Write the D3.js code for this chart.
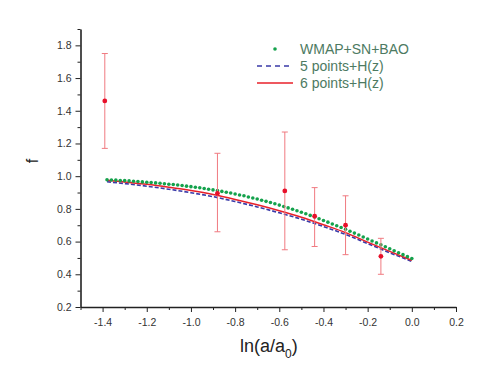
<!DOCTYPE html>
<html>
<head>
<meta charset="utf-8">
<script src="https://d3js.org/d3.v7.min.js"></script>
<style>
  body { margin: 0; background: #fff; }
  svg text { font-family: "Liberation Sans", Arial, sans-serif; }
  .axis path, .axis line { stroke: #222; }
  .axis text { fill: #333; font-size: 10.5px; }
</style>
</head>
<body>
<svg width="494" height="388"></svg>
<script>
// measured growth rate points with error bars
var obsX   = [-1.39, -0.88, -0.575, -0.44, -0.30, -0.14];
var obsF   = [1.46, 0.895, 0.91, 0.755, 0.70, 0.51];
var obsLo  = [1.17, 0.66, 0.55, 0.57, 0.52, 0.40];
var obsHi  = [1.75, 1.14, 1.27, 0.93, 0.88, 0.62];

// WMAP+SN+BAO dots, ln(a/a0) from 0 down to -1.38
var wmapX = [0, -0.02, -0.04, -0.06, -0.08, -0.10, -0.12, -0.14, -0.16, -0.18,
  -0.20, -0.22, -0.24, -0.26, -0.28, -0.30, -0.32, -0.34, -0.36, -0.38,
  -0.40, -0.42, -0.44, -0.46, -0.48, -0.50, -0.52, -0.54, -0.56, -0.58,
  -0.60, -0.62, -0.64, -0.66, -0.68, -0.70, -0.72, -0.74, -0.76, -0.78,
  -0.80, -0.82, -0.84, -0.86, -0.88, -0.90, -0.92, -0.94, -0.96, -0.98,
  -1.00, -1.02, -1.04, -1.06, -1.08, -1.10, -1.12, -1.14, -1.16, -1.18,
  -1.20, -1.22, -1.24, -1.26, -1.28, -1.30, -1.32, -1.34, -1.36, -1.38];
var wmapF = [0.497, 0.508, 0.520, 0.532, 0.544, 0.556, 0.568, 0.580, 0.592, 0.604,
  0.616, 0.628, 0.640, 0.652, 0.663, 0.675, 0.686, 0.697, 0.708, 0.719,
  0.729, 0.740, 0.750, 0.760, 0.770, 0.779, 0.789, 0.798, 0.806, 0.815,
  0.823, 0.831, 0.839, 0.846, 0.853, 0.860, 0.867, 0.873, 0.880, 0.885,
  0.891, 0.897, 0.902, 0.907, 0.912, 0.916, 0.920, 0.925, 0.929, 0.932,
  0.936, 0.939, 0.943, 0.946, 0.949, 0.951, 0.954, 0.957, 0.959, 0.961,
  0.963, 0.965, 0.967, 0.969, 0.971, 0.973, 0.974, 0.976, 0.977, 0.978];

// fitted curves
var fitX   = [-1.38, -1.3, -1.2, -1.1, -1.0, -0.9, -0.8, -0.7, -0.6, -0.5, -0.4, -0.3, -0.2, -0.1, 0];
var sixF   = [0.975, 0.965, 0.950, 0.932, 0.912, 0.888, 0.858, 0.825, 0.789, 0.749, 0.703, 0.655, 0.597, 0.540, 0.485];
var fiveF  = [0.972, 0.961, 0.945, 0.926, 0.905, 0.881, 0.851, 0.818, 0.782, 0.743, 0.698, 0.650, 0.594, 0.538, 0.485];

var xTicks = [-1.4, -1.2, -1.0, -0.8, -0.6, -0.4, -0.2, 0.0, 0.2];
var xMinor = [-1.5, -1.3, -1.1, -0.9, -0.7, -0.5, -0.3, -0.1, 0.1];
var yTicks = [0.2, 0.4, 0.6, 0.8, 1.0, 1.2, 1.4, 1.6, 1.8];
var yMinor = [0.3, 0.5, 0.7, 0.9, 1.1, 1.3, 1.5, 1.7, 1.9];

var legendNames = ["WMAP+SN+BAO", "5 points+H(z)", "6 points+H(z)"];

var svg = d3.select("svg");

var x = d3.scaleLinear().domain([-1.5, 0.2]).range([80.5, 456]);
var y = d3.scaleLinear().domain([0.2, 1.9]).range([307, 29]);

// minor ticks first, then the major axis on top
svg.append("g").attr("class", "axis")
  .attr("transform", "translate(0,307)")
  .call(d3.axisBottom(x).tickValues(xMinor).tickSize(3).tickSizeOuter(0).tickFormat(""))
  .call(function(g) { g.select(".domain").remove(); });
svg.append("g").attr("class", "axis")
  .attr("transform", "translate(80.5,0)")
  .call(d3.axisLeft(y).tickValues(yMinor).tickSize(3).tickSizeOuter(0).tickFormat(""))
  .call(function(g) { g.select(".domain").remove(); });

var gx = svg.append("g").attr("class", "axis")
  .attr("transform", "translate(0,307)")
  .call(d3.axisBottom(x).tickValues(xTicks).tickSize(5).tickSizeOuter(0).tickPadding(7)
    .tickFormat(d3.format(".1f")));
gx.select(".domain").attr("stroke-width", 1.6);

var gy = svg.append("g").attr("class", "axis")
  .attr("transform", "translate(80.5,0)")
  .call(d3.axisLeft(y).tickValues(yTicks).tickSize(5).tickSizeOuter(0).tickPadding(4)
    .tickFormat(d3.format(".1f")));
gy.select(".domain").attr("stroke-width", 1.6);

svg.selectAll(".axis text").text(function() { return this.textContent.replace("\u2212", "-"); });

// axis titles
var xt = svg.append("text")
  .attr("x", 240).attr("y", 352)
  .attr("font-size", 18).attr("fill", "#222");
xt.append("tspan").text("ln(a/a");
xt.append("tspan").attr("font-size", 12).attr("dy", 6).text("0");
xt.append("tspan").attr("dy", -6).text(")");

svg.append("text")
  .attr("transform", "translate(38,161) rotate(-90)")
  .attr("text-anchor", "middle")
  .attr("font-size", 16).attr("fill", "#222")
  .text("f");

// curves
var sixData = fitX.map(function(v, i) { return [v, sixF[i]]; });
var fiveData = fitX.map(function(v, i) { return [v, fiveF[i]]; });
var line = d3.line()
  .x(function(d) { return x(d[0]); })
  .y(function(d) { return y(d[1]); })
  .curve(d3.curveMonotoneX);

svg.append("path").datum(fiveData)
  .attr("d", line).attr("fill", "none")
  .attr("stroke", "#3a3aa8").attr("stroke-width", 1.6)
  .attr("stroke-dasharray", "4,2")
  .attr("transform", "translate(0,1)");

svg.append("path").datum(sixData)
  .attr("d", line).attr("fill", "none")
  .attr("stroke", "#e8202a").attr("stroke-width", 1.5);

svg.selectAll(".wmap")
  .data(wmapX)
  .enter().append("circle")
  .attr("class", "wmap")
  .attr("cx", function(d) { return x(d); })
  .attr("cy", function(d, i) { return y(wmapF[i]); })
  .attr("r", 1.8)
  .attr("fill", "#14a24c");

// error bars
var eb = svg.selectAll(".eb")
  .data(obsX)
  .enter().append("g").attr("class", "eb")
  .attr("stroke", "#f07a80").attr("stroke-width", 1);
eb.append("line")
  .attr("x1", function(d) { return x(d); })
  .attr("x2", function(d) { return x(d); })
  .attr("y1", function(d, i) { return y(obsLo[i]); })
  .attr("y2", function(d, i) { return y(obsHi[i]); });
eb.append("line")
  .attr("x1", function(d) { return x(d) - 3; })
  .attr("x2", function(d) { return x(d) + 3; })
  .attr("y1", function(d, i) { return y(obsHi[i]); })
  .attr("y2", function(d, i) { return y(obsHi[i]); });
eb.append("line")
  .attr("x1", function(d) { return x(d) - 3; })
  .attr("x2", function(d) { return x(d) + 3; })
  .attr("y1", function(d, i) { return y(obsLo[i]); })
  .attr("y2", function(d, i) { return y(obsLo[i]); });

svg.selectAll(".obs")
  .data(obsX)
  .enter().append("circle")
  .attr("class", "obs")
  .attr("cx", function(d) { return x(d); })
  .attr("cy", function(d, i) { return y(obsF[i]); })
  .attr("r", 2.4)
  .attr("fill", "#e8102a");

// legend
var leg = svg.append("g").attr("transform", "translate(256,49)");
leg.append("circle").attr("cx", 19).attr("cy", 0).attr("r", 1.8).attr("fill", "#14a24c");
leg.append("line").attr("x1", 1).attr("x2", 37).attr("y1", 17).attr("y2", 17)
  .attr("stroke", "#3a3aa8").attr("stroke-width", 1.4).attr("stroke-dasharray", "5,4");
leg.append("line").attr("x1", 1).attr("x2", 37).attr("y1", 34).attr("y2", 34)
  .attr("stroke", "#e8202a").attr("stroke-width", 1.5);
leg.selectAll(".lt")
  .data(legendNames)
  .enter().append("text")
  .attr("class", "lt")
  .attr("x", 44)
  .attr("y", function(d, i) { return i * 17 + 5; })
  .attr("font-size", 14)
  .attr("fill", "#4d7a62")
  .text(function(d) { return d; });
</script>
</body>
</html>
